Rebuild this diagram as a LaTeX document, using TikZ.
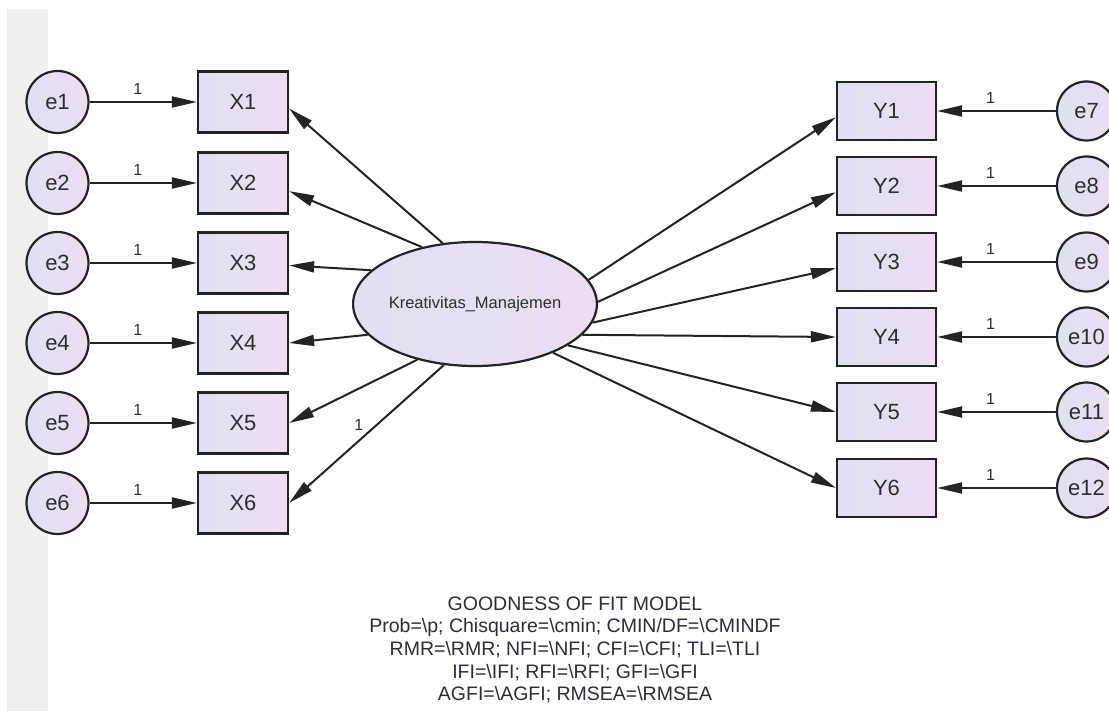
\documentclass[tikz,border=0pt]{standalone}
\usepackage{fontspec}
\setmainfont{Liberation Sans}
\usetikzlibrary{arrows.meta,shapes.geometric}
\definecolor{amosleft}{RGB}{222,226,240}
\definecolor{amosright}{RGB}{238,220,242}
\definecolor{amosline}{RGB}{35,35,38}
\definecolor{amostext}{RGB}{45,45,55}
\definecolor{stripgray}{RGB}{240,240,240}
\begin{document}
\begin{tikzpicture}[x=1pt,y=-1pt]
  \useasboundingbox (0,0) rectangle (1109,711);
  \fill[stripgray] (7,9) rectangle (48,711);
  % error terms, left
  \begin{scope}[every node/.style={circle,draw=amosline,line width=2.2pt,left color=amosleft,right color=amosright,text=amostext,inner sep=0pt,minimum size=62pt,font=\fontsize{22}{26}\selectfont}]
  \node (e1) at (57.5,102) {e1};
  \node (e2) at (57.5,183) {e2};
  \node (e3) at (57.5,263) {e3};
  \node (e4) at (57.5,343) {e4};
  \node (e5) at (57.5,423) {e5};
  \node (e6) at (57.5,503) {e6};
  \end{scope}
  % error terms, right
  \begin{scope}[every node/.style={circle,draw=amosline,line width=2.2pt,left color=amosleft,right color=amosright,text=amostext,inner sep=0pt,minimum size=59pt,font=\fontsize{22}{26}\selectfont}]
  \node (e7) at (1086.5,111) {e7};
  \node (e8) at (1086.5,186) {e8};
  \node (e9) at (1086.5,262) {e9};
  \node (e10) at (1086.5,337) {e10};
  \node (e11) at (1086.5,412) {e11};
  \node (e12) at (1086.5,488) {e12};
  \end{scope}
  % indicators
  \begin{scope}[every node/.style={rectangle,draw=amosline,line width=2.2pt,left color=amosleft,right color=amosright,text=amostext,inner sep=0pt,minimum width=90pt,minimum height=61pt,font=\fontsize{22}{26}\selectfont}]
  \node (x1) at (243,102) {X1};
  \node (x2) at (243,183) {X2};
  \node (x3) at (243,263) {X3};
  \node (x4) at (243,343) {X4};
  \node (x5) at (243,423) {X5};
  \node (x6) at (243,503) {X6};
  \end{scope}
  \begin{scope}[every node/.style={rectangle,draw=amosline,line width=2.2pt,left color=amosleft,right color=amosright,text=amostext,inner sep=0pt,minimum width=99pt,minimum height=58pt,font=\fontsize{22}{26}\selectfont}]
  \node (y1) at (886.5,111) {Y1};
  \node (y2) at (886.5,186) {Y2};
  \node (y3) at (886.5,262) {Y3};
  \node (y4) at (886.5,337) {Y4};
  \node (y5) at (886.5,412) {Y5};
  \node (y6) at (886.5,488) {Y6};
  \end{scope}
  % latent variable
  \node[ellipse,draw=amosline,line width=2.2pt,left color=amosleft,right color=amosright,text=amostext,inner sep=0pt,minimum width=184pt,minimum height=124pt,font=\fontsize{16.5}{19}\selectfont] (k) at (475,304) {Kreativitas\_Manajemen};
  \begin{scope}[every edge/.style={draw=amosline,line width=2pt,-{Triangle[length=25pt,width=11pt]}},
                every node/.style={text=amostext,font=\fontsize{16}{19}\selectfont}]
  \path (e1) edge node (l1) [pos=.45,above=3pt] {1} (x1);
  \path (e2) edge node (l2) [pos=.45,above=3pt] {1} (x2);
  \path (e3) edge node (l3) [pos=.45,above=3pt] {1} (x3);
  \path (e4) edge node (l4) [pos=.45,above=3pt] {1} (x4);
  \path (e5) edge node (l5) [pos=.45,above=3pt] {1} (x5);
  \path (e6) edge node (l6) [pos=.45,above=3pt] {1} (x6);
  \path (e7) edge node (l7) [pos=.55,above=3pt] {1} (y1);
  \path (e8) edge node (l8) [pos=.55,above=3pt] {1} (y2);
  \path (e9) edge node (l9) [pos=.55,above=3pt] {1} (y3);
  \path (e10) edge node (l10) [pos=.55,above=3pt] {1} (y4);
  \path (e11) edge node (l11) [pos=.55,above=3pt] {1} (y5);
  \path (e12) edge node (l12) [pos=.55,above=3pt] {1} (y6);
  \path (k.118) edge (x1.-8);
  \path (k.133) edge (x2.-10);
  \path (k.162) edge (x3.-3);
  \path (k.196) edge (x4.east);
  \path (k.224) edge (x5.east);
  \path (k.243) edge node (l13) [pos=.55,above=6pt] {1} (x6.east);
  \path (k.12) edge (y1.187);
  \path (k.1) edge (y2.187);
  \path (k.-9) edge (y3.187);
  \path (k.-16) edge (y4.west);
  \path (k.-24) edge (y5.west);
  \path (k.-32) edge (y6.west);
  \end{scope}
  \node[align=center,text=amostext,font=\fontsize{19.5}{22.7}\selectfont] (gof) at (575,650)
    {GOODNESS OF FIT MODEL\\
     Prob=\textbackslash p; Chisquare=\textbackslash cmin; CMIN/DF=\textbackslash CMINDF\\
     RMR=\textbackslash RMR; NFI=\textbackslash NFI; CFI=\textbackslash CFI; TLI=\textbackslash TLI\\
     IFI=\textbackslash IFI; RFI=\textbackslash RFI; GFI=\textbackslash GFI\\
     AGFI=\textbackslash AGFI; RMSEA=\textbackslash RMSEA};
\end{tikzpicture}
\end{document}
